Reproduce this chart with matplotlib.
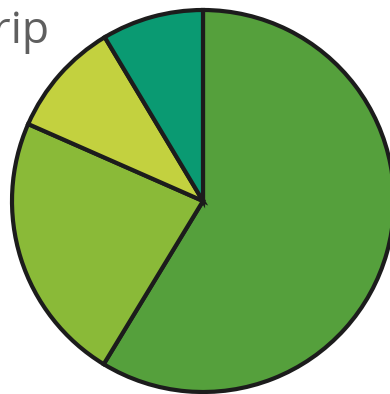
import matplotlib
matplotlib.use("Agg")
import matplotlib.pyplot as plt

# slice shares, clockwise from 12 o'clock
labels = ["A", "B", "C", "D"]
values = [58.7, 22.9, 9.8, 8.6]
colors = ["#55a03c", "#8aba38", "#c3d13f", "#0a9a72"]
title = "Trip"

W, H = 390, 394
fig = plt.figure(figsize=(W / 100, H / 100), dpi=100)
ax = fig.add_axes([0, 0, 1, 1])

ax.pie(values, colors=colors, startangle=90, counterclock=False,
       center=(203, H - 201), radius=191,
       wedgeprops=dict(edgecolor="#1c1c1c", linewidth=3.0))
ax.set_xlim(0, W)
ax.set_ylim(0, H)
ax.set_aspect("equal")
ax.axis("off")

fig.text(50 / W, 1 - 43 / H, title, ha="right", va="baseline",
         fontsize=32, color="#5f5f5f", family=["Open Sans", "DejaVu Sans"])

fig.savefig("out.png", dpi=100)
